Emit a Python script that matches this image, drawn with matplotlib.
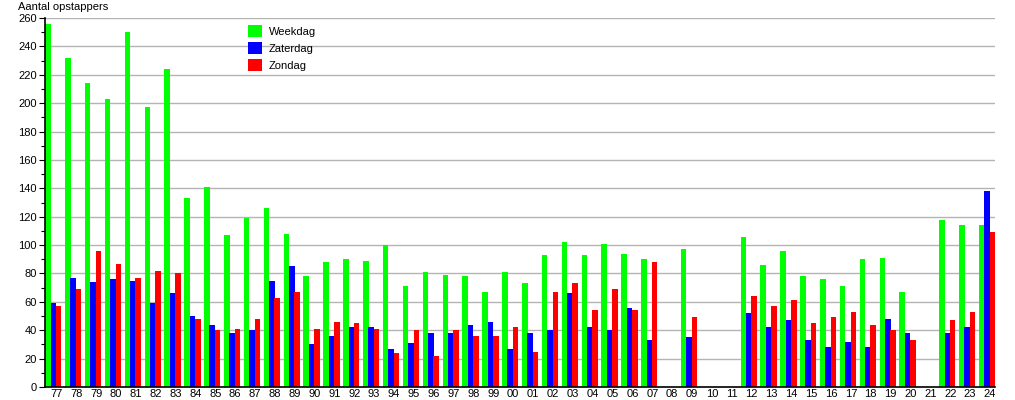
import matplotlib
matplotlib.use("Agg")
import matplotlib.pyplot as plt
import numpy as np

# jaren (twee cijfers)
jaren = ["77", "78", "79", "80", "81", "82", "83", "84", "85", "86", "87", "88",
         "89", "90", "91", "92", "93", "94", "95", "96", "97", "98", "99", "00",
         "01", "02", "03", "04", "05", "06", "07", "08", "09", "10", "11", "12",
         "13", "14", "15", "16", "17", "18", "19", "20", "21", "22", "23", "24"]

# 0 = geen gegevens
weekdag = [256, 232, 214, 203, 250, 197, 224, 133, 141, 107, 119, 126,
           108, 78, 88, 90, 89, 100, 71, 81, 79, 78, 67, 81,
           73, 93, 102, 93, 101, 94, 90, 0, 97, 0, 0, 106,
           86, 96, 78, 76, 71, 90, 91, 67, 0, 118, 114, 114]
zaterdag = [59, 77, 74, 76, 75, 59, 66, 50, 44, 38, 40, 75,
            85, 30, 36, 42, 42, 27, 31, 38, 38, 44, 46, 27,
            38, 40, 66, 42, 40, 56, 33, 0, 35, 0, 0, 52,
            42, 47, 33, 28, 32, 28, 48, 38, 0, 38, 42, 138]
zondag = [57, 69, 96, 87, 77, 82, 80, 48, 40, 41, 48, 63,
          67, 41, 46, 45, 41, 24, 40, 22, 40, 36, 36, 42,
          25, 67, 73, 54, 69, 54, 88, 0, 49, 0, 0, 64,
          57, 61, 45, 49, 53, 44, 40, 33, 0, 47, 53, 109]

series = [("Weekdag", weekdag, "#00ff00"),
          ("Zaterdag", zaterdag, "#0000ff"),
          ("Zondag", zondag, "#ff0000")]

plt.rcParams['font.family'] = ['Liberation Sans', 'DejaVu Sans']

fig = plt.figure(figsize=(10.15, 4.0), dpi=100)
ax = fig.add_axes([45 / 1015, 1 - 387 / 400, 950 / 1015, 369 / 400])

x = np.arange(len(jaren))
breedte = 0.28
for i, (naam, waarden, kleur) in enumerate(series):
    ax.bar(x + (i - 1) * 0.27, waarden, width=breedte, color=kleur,
           label=naam, zorder=3, linewidth=0)

ax.set_xlim(-0.42, len(jaren) - 0.6)
ax.set_ylim(0, 260)
ax.set_yticks(np.arange(0, 261, 20))
ax.set_yticks(np.arange(10, 260, 20), minor=True)
ax.set_xticks(x + 0.15)
ax.set_xticklabels(jaren)
ax.tick_params(axis='x', length=0, labelsize=8, pad=1.5)
ax.tick_params(axis='y', which='major', length=4, width=0.8, labelsize=8, pad=2)
ax.tick_params(axis='y', which='minor', length=3, width=0.8)
ax.grid(axis='y', color='#b4b4b4', linewidth=1, zorder=0)

for kant in ['top', 'right']:
    ax.spines[kant].set_visible(False)
ax.spines['left'].set_linewidth(1.2)
ax.spines['bottom'].set_linewidth(1.2)
ax.spines['left'].set_zorder(4)
ax.spines['bottom'].set_zorder(4)

fig.text(18 / 1015, 1 - 7 / 400, "Aantal opstappers", fontsize=8, va='center')

ax.legend(loc='upper left', bbox_to_anchor=(238 / 1015, 1 - 15 / 400),
          bbox_transform=fig.transFigure, frameon=False, fontsize=8,
          handlelength=1.3, handleheight=1.3, handletextpad=0.6,
          labelspacing=0.45)

fig.savefig("out.png", dpi=100)
